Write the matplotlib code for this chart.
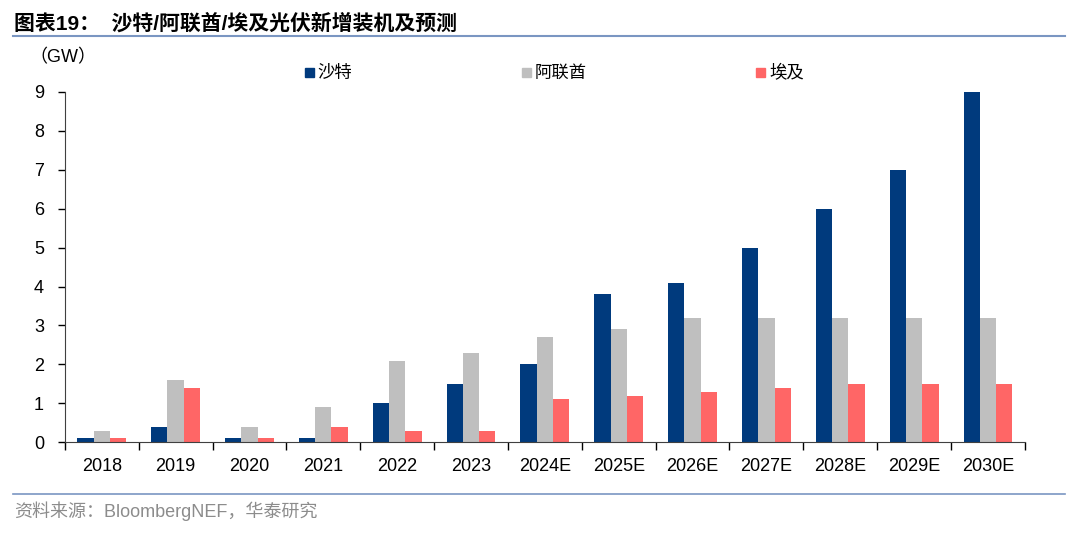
import numpy as np
import matplotlib.pyplot as plt
from matplotlib.lines import Line2D

plt.rcParams['font.family'] = ['Liberation Sans', 'Noto Sans CJK SC', 'DejaVu Sans']

years = ["2018", "2019", "2020", "2021", "2022", "2023", "2024E",
         "2025E", "2026E", "2027E", "2028E", "2029E", "2030E"]
saudi = [0.1, 0.4, 0.1, 0.1, 1.0, 1.5, 2.0, 3.8, 4.1, 5.0, 6.0, 7.0, 9.0]
uae = [0.3, 1.6, 0.4, 0.9, 2.1, 2.3, 2.7, 2.9, 3.2, 3.2, 3.2, 3.2, 3.2]
egypt = [0.1, 1.4, 0.1, 0.4, 0.3, 0.3, 1.1, 1.2, 1.3, 1.4, 1.5, 1.5, 1.5]

c_saudi = "#003A7D"
c_uae = "#BFBFBF"
c_egypt = "#FF6666"

fig = plt.figure(figsize=(10.8, 5.38), dpi=100)
ax = fig.add_axes([0.060, 0.178, 0.889, 0.651])

x = np.arange(len(years))
w = 0.22
ax.bar(x - w, saudi, w, color=c_saudi, label="沙特")
ax.bar(x, uae, w, color=c_uae, label="阿联酋")
ax.bar(x + w, egypt, w, color=c_egypt, label="埃及")

ax.set_xlim(-0.5, len(years) - 0.5)
ax.set_ylim(0, 9)
ax.set_yticks(range(10))
ax.set_xticks(x)
ax.set_xticklabels(years)
ax.set_xticks(np.arange(-0.5, len(years)), minor=True)
ax.tick_params(axis='x', which='major', length=0, pad=11, labelsize=13)
ax.tick_params(axis='x', which='minor', length=6, width=1, direction='out')
ax.tick_params(axis='y', length=5, width=1, labelsize=13, pad=10)
for s in ['top', 'right']:
    ax.spines[s].set_visible(False)
ax.spines['left'].set_color('#404040')
ax.spines['bottom'].set_color('#404040')

fig.text(0.027, 0.893, "（GW）", fontsize=13, va='center')

# legend entries placed like the reference
for xp, lab, col in [(0.282, "沙特", c_saudi), (0.483, "阿联酋", c_uae), (0.700, "埃及", c_egypt)]:
    fig.patches.append(plt.Rectangle((xp, 0.857), 0.0085, 0.017, color=col,
                                     transform=fig.transFigure, figure=fig))
    fig.text(xp + 0.012, 0.865, lab, fontsize=12.5, va='center')

fig.text(0.013, 0.957, "图表19：  沙特/阿联酋/埃及光伏新增装机及预测", fontsize=15,
         fontweight='bold', va='center')
fig.add_artist(Line2D([0.012, 0.986], [0.933, 0.933], color="#7A96C2", lw=1.5))
fig.add_artist(Line2D([0.012, 0.986], [0.082, 0.082], color="#7A96C2", lw=1.2))
fig.text(0.013, 0.049, "资料来源：BloombergNEF，华泰研究", fontsize=13,
         color="#8C8C8C", va='center')

fig.savefig("out.png", dpi=100)
